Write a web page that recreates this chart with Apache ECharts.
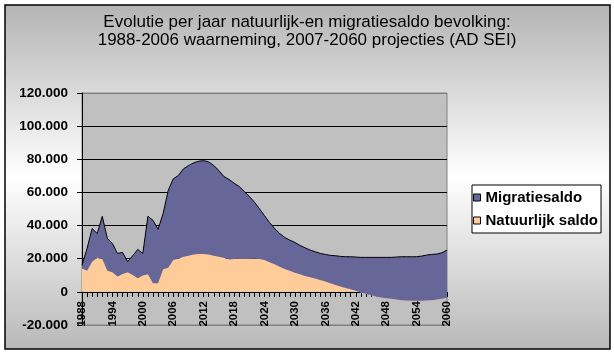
<!DOCTYPE html>
<html>
<head>
<meta charset="utf-8">
<script src="https://cdn.jsdelivr.net/npm/echarts@6/dist/echarts.min.js"></script>
<style>
  html, body { margin: 0; padding: 0; background: #fff; }
  #main { width: 614px; height: 354px; }
</style>
</head>
<body>
<div id="main"></div>
<script>
  // jaren 1988 - 2060
  let years = [];
  for (let y = 1988; y <= 2060; y++) years.push(String(y));

  // natuurlijk saldo (geboorten - sterften)
  let natuurlijk = [
    14200, 12800, 18200, 20600, 19800, 12800, 11800, 9200, 10800, 11800,
    10200, 8200, 9800, 10600, 5200, 5200, 13600, 14600, 19200, 20000,
    21200, 21800, 22600, 22800, 22800, 22600, 21800, 21200, 20600, 19600,
    19800, 20200, 20200, 20200, 20000, 19800, 19200, 17800, 16600, 15200,
    13800, 12800, 11600, 10600, 9600, 8800, 8000, 7200, 6200, 5200,
    4200, 3200, 2400, 1600, 600, -400, -1200, -2000, -2800, -3400,
    -3800, -4200, -4600, -5000, -5200, -5400, -5400, -5400, -5200, -5000,
    -4600, -4200, -3600
  ];

  // migratiesaldo
  let migratie = [
    1800, 13400, 20000, 14600, 25800, 19400, 17400, 14000, 13000, 6400,
    11600, 17400, 13400, 35000, 38000, 32600, 33600, 46600, 49000, 50200,
    53000, 54400, 55200, 56000, 56400, 55800, 54400, 52000, 49000, 48200,
    45800, 43400, 40400, 37400, 34200, 30400, 26800, 24000, 21600, 20000,
    19000, 18400, 18200, 17400, 17000, 16400, 16200, 16000, 16400, 16800,
    17600, 18200, 18800, 19600, 20400, 21200, 22000, 22800, 23600, 24200,
    24600, 25000, 25600, 26200, 26400, 26600, 26600, 27000, 27400, 27600,
    27400, 27800, 28800
  ];

  let fmt = function (v) {
    let s = String(Math.abs(v)).replace(/\B(?=(\d{3})+(?!\d))/g, '.');
    return (v < 0 ? '-' : '') + s;
  };

  let chart = echarts.init(document.getElementById('main'));

  let option = {
    backgroundColor: '#fff',
    animation: false,
    graphic: [{
      type: 'rect',
      z: -10,
      silent: true,
      shape: { x: 5, y: 5, width: 605, height: 344 },
      style: {
        fill: new echarts.graphic.LinearGradient(0, 0, 0, 1, [
          { offset: 0, color: '#b4b4b4' },
          { offset: 0.5, color: '#ffffff' },
          { offset: 1, color: '#b8b8b8' }
        ]),
        stroke: '#000',
        lineWidth: 1.5
      }
    }],
    title: {
      text: 'Evolutie per jaar natuurlijk-en migratiesaldo bevolking:\n1988-2006 waarneming, 2007-2060 projecties (AD SEI)',
      left: 'center',
      top: 13,
      padding: 0,
      textStyle: {
        fontFamily: 'Liberation Sans, Arial',
        fontSize: 17,
        fontWeight: 'normal',
        color: '#000',
        lineHeight: 18
      }
    },
    legend: {
      orient: 'vertical',
      left: 472,
      top: 185,
      padding: [5, 3, 5, 1],
      itemGap: 8,
      itemWidth: 7,
      itemHeight: 7,
      icon: 'rect',
      backgroundColor: '#fff',
      borderColor: '#000',
      borderWidth: 1,
      itemStyle: { borderColor: '#000', borderWidth: 1 },
      textStyle: {
        fontFamily: 'Liberation Sans, Arial',
        fontSize: 15,
        lineHeight: 15,
        fontWeight: 'bold',
        color: '#000'
      },
      data: ['Migratiesaldo', 'Natuurlijk saldo']
    },
    grid: {
      left: 82,
      right: 167,
      top: 93,
      bottom: 29,
      outerBoundsMode: 'none',
      show: true,
      backgroundColor: '#c0c0c0',
      borderColor: '#808080',
      borderWidth: 1
    },
    xAxis: {
      type: 'category',
      data: years,
      boundaryGap: false,
      offset: -33,
      axisLine: { onZero: false, lineStyle: { color: '#000', width: 1 } },
      axisTick: { interval: 0, length: 5, lineStyle: { color: '#000' } },
      axisLabel: {
        interval: 5,
        rotate: 90,
        margin: 9,
        fontFamily: 'Liberation Sans, Arial',
        fontSize: 11.5,
        fontWeight: 'bold',
        color: '#000'
      },
      splitLine: { show: false }
    },
    yAxis: {
      type: 'value',
      min: -20000,
      max: 120000,
      interval: 20000,
      axisLine: { show: true, lineStyle: { color: '#000', width: 1 } },
      axisTick: { show: true, length: 5, lineStyle: { color: '#000' } },
      axisLabel: {
        margin: 14,
        fontFamily: 'Liberation Sans, Arial',
        fontSize: 13.5,
        fontWeight: 'bold',
        color: '#000',
        formatter: fmt
      },
      splitLine: {
        show: true,
        lineStyle: {
          color: ['#808080', '#000', '#000', '#000', '#000', '#000', '#000', '#808080'],
          width: 1
        }
      }
    },
    series: [
      {
        name: 'Natuurlijk saldo',
        type: 'line',
        stack: 'saldo',
        stackStrategy: 'all',
        data: natuurlijk,
        showSymbol: false,
        symbol: 'none',
        color: '#ffcc99',
        lineStyle: { width: 0 },
        areaStyle: { color: '#ffcc99', opacity: 1 }
      },
      {
        name: 'Migratiesaldo',
        type: 'line',
        stack: 'saldo',
        stackStrategy: 'all',
        data: migratie,
        showSymbol: false,
        symbol: 'none',
        color: '#666699',
        lineStyle: { color: '#000', width: 1 },
        areaStyle: { color: '#666699', opacity: 1 }
      }
    ]
  };
  chart.setOption(option);
</script>
</body>
</html>
